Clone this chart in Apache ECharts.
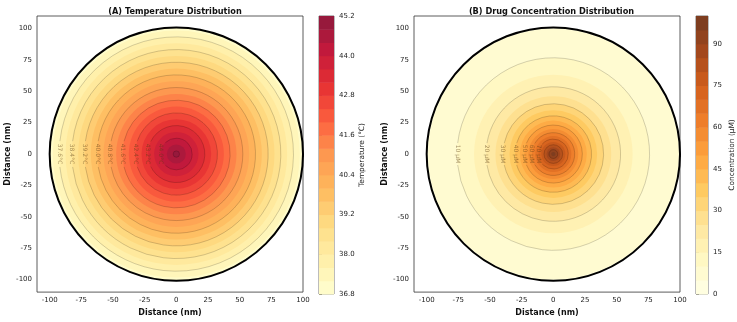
<!DOCTYPE html>
<html>
<head>
<meta charset="utf-8">
<script src="https://cdn.jsdelivr.net/npm/echarts@6/dist/echarts.min.js"></script>
<style>
html, body { margin: 0; padding: 0; background: #fff; }
#main { width: 737px; height: 322px; }
</style>
</head>
<body>
<div id="main"></div>
<script>
var chartDom = document.getElementById('main');
var myChart = echarts.init(chartDom);

// tick labels
var distTicks = [-100, -75, -50, -25, 0, 25, 50, 75, 100];
var tempTicks = [36.8, 38.0, 39.2, 40.4, 41.6, 42.8, 44.0, 45.2];
var concTicks = [0, 15, 30, 45, 60, 75, 90];

// (A) temperature: filled levels and the radius (nm) where each lower level is reached
var tempLevels = [36.8, 37.2, 37.6, 38.0, 38.4, 38.8, 39.2, 39.6, 40.0, 40.4, 40.8,
    41.2, 41.6, 42.0, 42.4, 42.8, 43.2, 43.6, 44.0, 44.4, 44.8, 45.2];
var tempRadii = [100, 97.5, 92.5, 87.5, 82.5, 77.5, 72.5, 67.5, 62.5, 57.5, 52.5,
    47.5, 42.5, 37.5, 32.5, 27.5, 22.5, 17.5, 12.5, 7.5, 2.5];
var tempLineLevels = [37.6, 38.4, 39.2, 40.0, 40.8, 41.6, 42.4, 43.2, 44.0, 44.8];
var tempLabelLevels = [37.6, 38.4, 39.2, 40.0, 40.8, 41.6, 42.4, 43.2, 44.0];

// (B) drug concentration
var concLevels = [0, 5, 10, 15, 20, 25, 30, 35, 40, 45, 50, 55, 60, 65, 70, 75, 80, 85, 90, 95, 100];
var concRadii = [100, 98.9, 76.0, 62.6, 53.1, 45.7, 39.7, 34.6, 30.2, 26.4, 22.9,
    19.7, 16.9, 14.2, 11.8, 9.5, 7.4, 5.4, 3.5, 1.7];
var concLineLevels = [10, 20, 30, 40, 50, 60, 70, 80, 90];
var concLabelLevels = [10, 20, 30, 40, 50, 60, 70];

var YlOrRd = ['#ffffcc', '#ffeda0', '#fed976', '#feb24c', '#fd8d3c', '#fc4e2a', '#e31a1c', '#bd0026', '#800026'];
var YlOrBr = ['#ffffe5', '#fff7bc', '#fee391', '#fec44f', '#fe9929', '#ec7014', '#cc4c02', '#993404', '#662506'];
var fillAlpha = 0.9;
var font = 'DejaVu Sans';

function hexRgb(h) {
    return [parseInt(h.substr(1, 2), 16), parseInt(h.substr(3, 2), 16), parseInt(h.substr(5, 2), 16)];
}
// band colour, like contourf: colormap at the band midpoint, alpha over white
function bandColor(cmap, i, n) {
    var t = (i + 0.5) / n * (cmap.length - 1);
    var k = Math.min(Math.floor(t), cmap.length - 2);
    var f = t - k;
    var a = hexRgb(cmap[k]), b = hexRgb(cmap[k + 1]);
    var c = [0, 1, 2].map(function (j) {
        var v = a[j] + (b[j] - a[j]) * f;
        return Math.round(v * fillAlpha + 255 * (1 - fillAlpha));
    });
    return 'rgb(' + c.join(',') + ')';
}

function bandSeries(ai, levels, radii, cmap) {
    var n = levels.length - 1;
    return {
        type: 'custom', xAxisIndex: ai, yAxisIndex: ai, silent: true, z: 2,
        data: radii.map(function (r, i) { return [Math.min(r, 100), i]; }),
        renderItem: function (params, api) {
            var c = api.coord([0, 0]);
            var rp = api.size([api.value(0), 0])[0];
            return {
                type: 'circle',
                shape: { cx: c[0], cy: c[1], r: rp },
                style: { fill: bandColor(cmap, api.value(1), n) }
            };
        }
    };
}

function lineSeries(ai, levels, radii, lineLevels, labelLevels, unit) {
    var data = lineLevels.map(function (l) {
        return [radii[levels.indexOf(l)], l];
    });
    return {
        type: 'custom', xAxisIndex: ai, yAxisIndex: ai, silent: true, z: 3,
        data: data,
        renderItem: function (params, api) {
            var c = api.coord([0, 0]);
            var r = api.value(0), lv = api.value(1);
            var rp = api.size([r, 0])[0];
            var lab = labelLevels.indexOf(lv) >= 0;
            var txt = unit === '°C' ? lv.toFixed(1) + '°C' : lv + ' µM';
            var g = lab ? Math.min(1.2, (txt.length * 1.9 + 1.5) / rp) : 0;
            var children = [{
                type: 'arc',
                shape: { cx: c[0], cy: c[1], r: rp, startAngle: -Math.PI + g, endAngle: Math.PI - g, clockwise: true },
                style: { stroke: 'rgba(0,0,0,0.35)', lineWidth: 0.5, fill: null }
            }];
            if (lab) {
                children.push({
                    type: 'text',
                    x: c[0] - rp, y: c[1],
                    rotation: -Math.PI / 2,
                    style: {
                        text: txt, x: 0, y: 0, align: 'center', verticalAlign: 'middle',
                        fill: 'rgba(90,60,20,0.55)', fontSize: 6, fontFamily: font
                    }
                });
            }
            return { type: 'group', children: children };
        }
    };
}

function rimSeries(ai) {
    return {
        type: 'custom', xAxisIndex: ai, yAxisIndex: ai, silent: true, z: 4,
        data: [[100, 0]],
        renderItem: function (params, api) {
            var c = api.coord([0, 0]);
            var rp = api.size([api.value(0), 0])[0];
            return {
                type: 'circle',
                shape: { cx: c[0], cy: c[1], r: rp },
                style: { fill: null, stroke: '#000', lineWidth: 2 }
            };
        }
    };
}

function barSeries(ai, levels, cmap) {
    var n = levels.length - 1;
    return {
        type: 'custom', xAxisIndex: ai, yAxisIndex: ai, silent: true,
        data: levels.slice(0, n).map(function (l, i) { return [0, l, levels[i + 1], i]; }),
        renderItem: function (params, api) {
            var p0 = api.coord([0, api.value(1)]);
            var p1 = api.coord([1, api.value(2)]);
            return {
                type: 'rect',
                shape: { x: p0[0], y: p1[1], width: p1[0] - p0[0], height: p0[1] - p1[1] + 0.5 },
                style: { fill: bandColor(cmap, api.value(3), n) }
            };
        }
    };
}

var tickFont = 7;
var nameStyle = { fontSize: 8, fontWeight: 'bold', color: '#111', fontFamily: font };

function distAxis(gi, isX, min, max) {
    return {
        type: 'value', gridIndex: gi, min: min, max: max,
        name: 'Distance (nm)', nameLocation: 'middle', nameGap: isX ? 13 : 22,
        nameTextStyle: nameStyle,
        axisLine: { show: false },
        splitLine: { show: false },
        axisTick: { show: true, length: 3, customValues: distTicks, lineStyle: { color: '#333', width: 0.8 } },
        axisLabel: { customValues: distTicks, margin: 5, fontSize: tickFont, color: '#222', fontFamily: font }
    };
}

function cbarAxis(gi, min, max, ticks, name, fmt) {
    return {
        type: 'value', gridIndex: gi, position: 'right', min: min, max: max,
        name: name, nameLocation: 'middle', nameGap: 21, nameRotate: 90,
        nameTextStyle: { fontSize: 7.4, color: '#222', fontFamily: font },
        axisLine: { show: false },
        splitLine: { show: false },
        axisTick: { show: true, length: 3, customValues: ticks, lineStyle: { color: '#333', width: 0.8 } },
        axisLabel: { customValues: ticks, margin: 5, fontSize: tickFont, color: '#222', fontFamily: font, formatter: fmt }
    };
}

var hiddenX = function (gi) {
    return { type: 'value', gridIndex: gi, min: 0, max: 1, show: false };
};

var option = {
    animation: false,
    backgroundColor: '#fff',
    title: [{
        text: '(A) Temperature Distribution', left: 170, top: 3, textAlign: 'center',
        textStyle: { fontSize: 8.2, fontWeight: 'bold', color: '#111', fontFamily: font }
    }, {
        text: '(B) Drug Concentration Distribution', left: 546.5, top: 3, textAlign: 'center',
        textStyle: { fontSize: 8.2, fontWeight: 'bold', color: '#111', fontFamily: font }
    }],
    grid: [
        { left: 37, top: 16, width: 266, height: 278, show: true, borderColor: '#333', borderWidth: 0.8 },
        { left: 319, top: 16, width: 15, height: 278, show: true, borderColor: '#555', borderWidth: 0.8 },
        { left: 414, top: 16, width: 266, height: 278, show: true, borderColor: '#333', borderWidth: 0.8 },
        { left: 696, top: 16, width: 14, height: 278, show: true, borderColor: '#555', borderWidth: 0.8 }
    ],
    xAxis: [
        distAxis(0, true, -110, 100),
        hiddenX(1),
        distAxis(2, true, -110, 100),
        hiddenX(3)
    ],
    yAxis: [
        distAxis(0, false, -110, 110),
        cbarAxis(1, 36.8, 45.2, tempTicks, 'Temperature (°C)', function (v) { return v.toFixed(1); }),
        distAxis(2, false, -110, 110),
        cbarAxis(3, 0, 100, concTicks, 'Concentration (µM)', function (v) { return String(v); })
    ],
    series: [
        bandSeries(0, tempLevels, tempRadii, YlOrRd),
        lineSeries(0, tempLevels, tempRadii, tempLineLevels, tempLabelLevels, '°C'),
        rimSeries(0),
        barSeries(1, tempLevels, YlOrRd),
        bandSeries(2, concLevels, concRadii, YlOrBr),
        lineSeries(2, concLevels, concRadii, concLineLevels, concLabelLevels, 'µM'),
        rimSeries(2),
        barSeries(3, concLevels, YlOrBr)
    ]
};

myChart.setOption(option);
</script>
</body>
</html>
